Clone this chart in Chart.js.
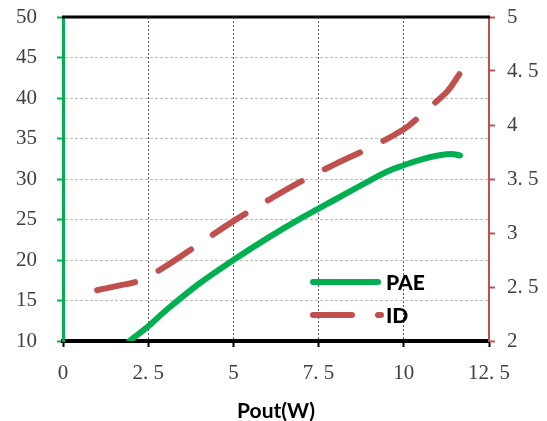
<!DOCTYPE html>
<html>
<head>
<meta charset="utf-8">
<script src="https://cdn.jsdelivr.net/npm/chart.js@4/dist/chart.umd.min.js"></script>
<style>
  html, body { margin: 0; padding: 0; background: #fff; }
  canvas { display: block; }
</style>
</head>
<body>
<canvas id="chart" width="547" height="421"></canvas>
<script>
// PAE (%) and drain current ID (A) versus output power
const paePout = [1.95, 2.5, 3, 4, 5, 6, 7, 8, 9, 9.5, 10, 10.5, 11, 11.4, 11.65];
const paeValues = [10, 11.8, 13.7, 17.1, 20.0, 22.7, 25.2, 27.5, 29.8, 30.9, 31.7, 32.4, 32.9, 33.1, 32.9];

const idPout = [1.0, 1.6, 2.25, 3, 4, 5, 6, 7, 8, 9, 10, 10.5, 11, 11.3, 11.63];
const idValues = [2.47, 2.51, 2.56, 2.69, 2.9, 3.11, 3.3, 3.48, 3.64, 3.79, 3.96, 4.09, 4.23, 4.32, 4.47];

const xTicks = [0, 2.5, 5, 7.5, 10, 12.5];
const xTickLabels = ['0', '2. 5', '5', '7. 5', '10', '12. 5'];
const leftTicks = [10, 15, 20, 25, 30, 35, 40, 45, 50];
const leftTickLabels = ['10', '15', '20', '25', '30', '35', '40', '45', '50'];
const rightTicks = [2, 2.5, 3, 3.5, 4, 4.5, 5];
const rightTickLabels = ['2', '2. 5', '3', '3. 5', '4', '4. 5', '5'];

const seriesNames = ['PAE', 'ID'];

const GREEN = '#00b050';
const RED = '#c0504d';
const tickFont = { family: '"Liberation Serif", serif', size: 21 };

const toPoints = (xs, ys) => xs.map((x, i) => ({ x: x, y: ys[i] }));
const fixTicks = (values) => (scale) => { scale.ticks = values.map(v => ({ value: v })); };
// the axes keep a fixed box; labels may hang over the plot edges
const fixBox = (w, h) => (s) => {
  if (w) s.width = w;
  if (h) s.height = h;
  s.paddingTop = 0;
  s.paddingBottom = 0;
  s.paddingLeft = 0;
  s.paddingRight = 0;
};

// top frame line and the legend inside the plot
const framePlugin = {
  id: 'frame',
  afterDatasetsDraw(chart) {
    const { ctx, chartArea: a } = chart;
    ctx.save();
    ctx.strokeStyle = '#000';
    ctx.lineWidth = 3;
    ctx.beginPath();
    ctx.moveTo(a.left - 1, a.top);
    ctx.lineTo(a.right + 1, a.top);
    ctx.stroke();

    ctx.lineCap = 'round';
    ctx.lineWidth = 6;
    ctx.strokeStyle = GREEN;
    ctx.beginPath();
    ctx.moveTo(313, 282);
    ctx.lineTo(378, 282);
    ctx.stroke();

    ctx.strokeStyle = RED;
    ctx.setLineDash([39, 26]);
    ctx.beginPath();
    ctx.moveTo(313, 315);
    ctx.lineTo(381, 315);
    ctx.stroke();
    ctx.setLineDash([]);

    ctx.fillStyle = '#000';
    ctx.font = '900 21px Lato, sans-serif';
    ctx.textBaseline = 'middle';
    ctx.fillText(seriesNames[0], 386, 283);
    ctx.fillText(seriesNames[1], 386, 316);
    ctx.restore();
  }
};

new Chart(document.getElementById('chart'), {
  type: 'line',
  data: {
    datasets: [
      {
        label: seriesNames[0],
        data: toPoints(paePout, paeValues),
        yAxisID: 'y',
        borderColor: GREEN,
        borderWidth: 6,
        borderCapStyle: 'round',
        borderJoinStyle: 'round',
        pointRadius: 0,
        tension: 0.4,
        fill: false
      },
      {
        label: seriesNames[1],
        data: toPoints(idPout, idValues),
        yAxisID: 'y1',
        borderColor: RED,
        borderWidth: 6,
        borderDash: [39, 26],
        borderCapStyle: 'round',
        borderJoinStyle: 'round',
        pointRadius: 0,
        tension: 0.4,
        fill: false
      }
    ]
  },
  options: {
    responsive: false,
    animation: false,
    devicePixelRatio: 1,
    layout: { padding: { top: 17, left: 0, right: 0, bottom: 0 } },
    plugins: {
      legend: { display: false },
      tooltip: { enabled: false }
    },
    scales: {
      x: {
        type: 'linear',
        min: 0,
        max: 12.5,
        afterBuildTicks: fixTicks(xTicks),
        afterFit: fixBox(0, 80),
        ticks: {
          color: '#404040',
          font: tickFont,
          padding: 14,
          maxRotation: 0,
          autoSkip: false,
          callback: (v, i) => xTickLabels[i]
        },
        grid: {
          color: '#555',
          lineWidth: 1,
          drawTicks: true,
          tickLength: 6,
          tickColor: '#000',
          tickWidth: 2
        },
        border: { color: '#000', width: 4, dash: [2, 2] },
        title: {
          display: true,
          text: 'Pout(W)',
          color: '#000',
          font: { family: 'Lato, sans-serif', size: 21, weight: 'bold' },
          padding: { top: 20, bottom: -3 }
        }
      },
      y: {
        type: 'linear',
        position: 'left',
        min: 10,
        max: 50,
        afterBuildTicks: fixTicks(leftTicks),
        afterFit: fixBox(63, 0),
        ticks: {
          color: '#404040',
          font: tickFont,
          padding: 20,
          autoSkip: false,
          callback: (v, i) => leftTickLabels[i]
        },
        grid: {
          color: '#bdbdbd',
          lineWidth: 1,
          tickLength: 6,
          tickColor: GREEN,
          tickWidth: 2
        },
        border: { color: GREEN, width: 3, dash: [3, 2] }
      },
      y1: {
        type: 'linear',
        position: 'right',
        min: 2,
        max: 5,
        afterBuildTicks: fixTicks(rightTicks),
        afterFit: fixBox(58, 0),
        ticks: {
          color: '#404040',
          font: tickFont,
          padding: 12,
          autoSkip: false,
          callback: (v, i) => rightTickLabels[i]
        },
        grid: {
          drawOnChartArea: false,
          tickLength: 6,
          tickColor: RED,
          tickWidth: 2
        },
        border: { color: RED, width: 2 }
      }
    }
  },
  plugins: [framePlugin]
});
</script>
</body>
</html>
